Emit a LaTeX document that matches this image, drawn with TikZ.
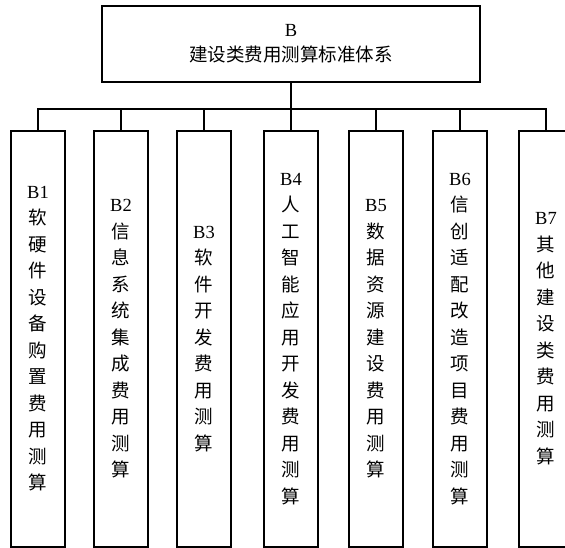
\documentclass[tikz,border=0pt]{standalone}
\usepackage{fontspec}
\setmainfont{Liberation Serif}
\newfontfamily\cjk{Noto Sans CJK SC}
\usepackage{tikz}
\newcommand{\lat}[1]{{\rmfamily #1}}
\tikzset{
	kuang/.style={draw, line width=1.6pt, align=center, inner sep=0pt, font=\cjk\fontsize{18.5}{26.5}\selectfont},
	hopcon/.style={kuang, anchor=north, minimum width=54pt, minimum height=416pt},
	duong/.style={line width=1.6pt}
}

\begin{document}
\begin{tikzpicture}[x=1pt, y=1pt]
			\useasboundingbox (0,0) rectangle (565,547);
			\node[kuang, minimum width=378pt, minimum height=76pt, font=\cjk\fontsize{18.5}{25}\selectfont] (goc) at (291,503) {\lat{B}\\建设类费用测算标准体系};
			\coordinate (thanh) at (0,438);
			\foreach \ten/\x/\chu in {
				b1/38/{\lat{B1}\\软\\硬\\件\\设\\备\\购\\置\\费\\用\\测\\算},
				b2/121/{\lat{B2}\\信\\息\\系\\统\\集\\成\\费\\用\\测\\算},
				b3/204/{\lat{B3}\\软\\件\\开\\发\\费\\用\\测\\算},
				b4/291/{\lat{B4}\\人\\工\\智\\能\\应\\用\\开\\发\\费\\用\\测\\算},
				b5/376/{\lat{B5}\\数\\据\\资\\源\\建\\设\\费\\用\\测\\算},
				b6/460/{\lat{B6}\\信\\创\\适\\配\\改\\造\\项\\目\\费\\用\\测\\算},
				b7/546/{\lat{B7}\\其\\他\\建\\设\\类\\费\\用\\测\\算}}
				\node[hopcon] (\ten) at (\x,417) {\chu};
			\draw[duong] (goc.south) -- (goc.south |- thanh);
			\draw[duong] (b1.north) -- (b1.north |- thanh) -- (b7.north |- thanh) -- (b7.north);
			\foreach \i in {2,...,6}
				\draw[duong] (b\i.north |- thanh) -- (b\i.north);
		\end{tikzpicture}
\end{document}
